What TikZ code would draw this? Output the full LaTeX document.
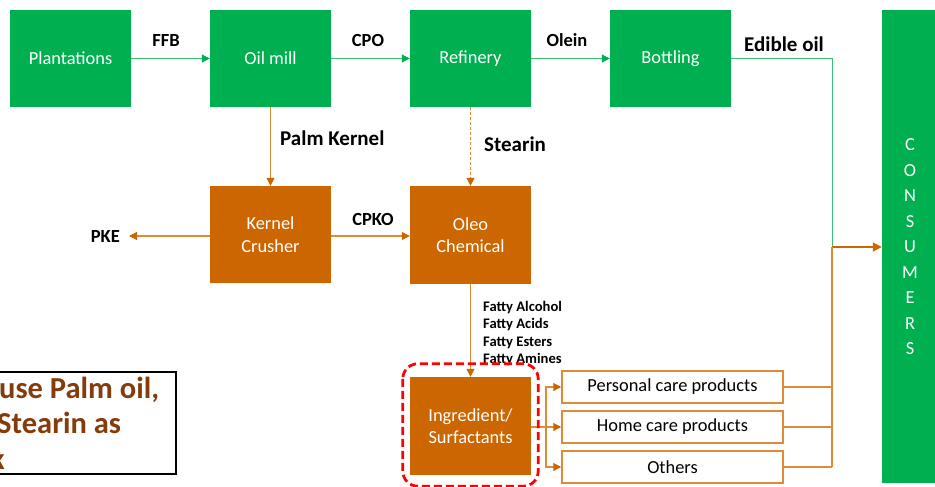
\documentclass[tikz,border=0pt]{standalone}
\usepackage{fontspec}
\setmainfont{Carlito}
\usepackage{xcolor}
\usetikzlibrary{arrows.meta}
\definecolor{boxGreen}{HTML}{00B050}
\definecolor{boxOrange}{HTML}{CC6600}
\definecolor{lineGreen}{HTML}{3CC078}
\definecolor{lineOrange}{HTML}{DE8A36}
\definecolor{noteBrown}{HTML}{843C0C}
\definecolor{markRed}{HTML}{FF0000}
\newcommand{\boxWidth}{121}
\newcommand{\boxHeight}{97}
\newcommand{\topRow}{58.5}
\newcommand{\boxFont}{\fontsize{18.4}{22.5}\selectfont}
\newcommand{\labelFont}{\fontsize{18.5}{22}\selectfont\bfseries}
\newcommand{\bigLabelFont}{\fontsize{21}{25}\selectfont\bfseries}
\newcommand{\fattyFont}{\fontsize{14.6}{17.6}\selectfont\bfseries}
\newcommand{\noteFont}{\fontsize{30.5}{35}\selectfont\bfseries}
\newcommand{\topBoxes}{plant/Plantations/70.5, mill/Oil mill/270.5, ref/Refinery/470.5, bott/Bottling/670.5}
\newcommand{\productNames}{pers/Personal care products/387, home/Home care products/427, others/Others/467}
\newcommand{\fattyNames}{1/Fatty Alcohol, 2/Fatty Acids, 3/Fatty Esters, 4/Fatty Amines}
\newcommand{\consumerLetters}{C,O,N,S,U,M,E,R,S}

\begin{document}
\begin{tikzpicture}[x=1pt,y=-1pt,
	greenBox/.style={fill=boxGreen, text=white, font=\boxFont, inner sep=0pt, align=center, minimum width=\boxWidth pt, minimum height=\boxHeight pt},
	orangeBox/.style={greenBox, fill=boxOrange},
	productBox/.style={draw=lineOrange, line width=1.5pt, fill=white, font=\boxFont, inner sep=0pt, minimum width=221pt, minimum height=32pt},
	smallLabel/.style={font=\labelFont, inner sep=0pt},
	bigLabel/.style={font=\bigLabelFont, inner sep=0pt},
	greenLine/.style={draw=lineGreen, line width=1pt},
	greenArrow/.style={greenLine, -{Triangle[length=8pt,width=8pt,color=boxGreen]}},
	orangeLine/.style={draw=lineOrange, line width=1.2pt},
	orangeArrow/.style={orangeLine, -{Triangle[length=8pt,width=8pt,color=boxOrange]}}]

	\useasboundingbox (0,0) rectangle (935,487);

	% top row
	\foreach \name/\txt/\xpos in \topBoxes
	{
		\node[greenBox] (\name) at (\xpos,\topRow) {\txt};
	}
	\node[orangeBox] (kern) at (270.5,234.5) {Kernel\\Crusher};
	\node[orangeBox, minimum height=98pt] (oleo) at (470.5,235) {Oleo\\Chemical};
	\node[orangeBox, minimum height=98pt] (ingr) at (470.5,426) {Ingredient/\\Surfactants};
	\node[greenBox, minimum width=53pt, minimum height=473pt] (cons) at (908.5,246.5) {};
	\foreach \ch [count=\i from 0] in \consumerLetters
	{
		\node[text=white, font=\boxFont, inner sep=0pt] (letter\i) at (910,145+25.5*\i) {\ch};
	}
	\foreach \name/\txt/\ypos in \productNames
	{
		\node[productBox] (\name) at (672.5,\ypos) {\txt};
	}

	% labels
	\node[smallLabel, anchor=base] (ffb) at (166,47) {FFB};
	\node[smallLabel, anchor=base] (cpo) at (368,47) {CPO};
	\node[smallLabel, anchor=base] (olein) at (567,47) {Olein};
	\node[bigLabel, anchor=base] (edible) at (784,52) {Edible oil};
	\node[bigLabel, anchor=base west] (pk) at (280,146) {Palm Kernel};
	\node[bigLabel, anchor=base west] (stearin) at (484,151) {Stearin};
	\node[smallLabel, anchor=base] (cpko) at (373,225) {CPKO};
	\node[smallLabel, anchor=base east] (pke) at (120,242) {PKE};
	\foreach \i/\txt in \fattyNames
	{
		\node[font=\fattyFont, inner sep=0pt, anchor=base west] (fatty\i) at (483,293.5+17.6*\i) {\txt};
	}

	% connectors
	\foreach \from/\to in {plant/mill, mill/ref, ref/bott}
		\draw[greenArrow] (\from) -- (\to);
	\coordinate (join) at (832,247);
	\coordinate (fork) at (546,427);
	\draw[greenLine] (bott.east) -| (join);
	\draw[draw=boxOrange, line width=2pt, -{Triangle[length=9pt,width=9pt]}, color=boxOrange] (join) -- (cons.west |- join);
	\foreach \name in {pers, home, others}
		\draw[orangeLine] (\name.east) -- (\name.east -| join);
	\draw[orangeLine] (others.east -| join) -- (join);
	\draw[orangeArrow] (mill) -- (kern);
	\draw[orangeArrow, dash pattern=on 3pt off 2pt] (ref) -- (oleo);
	\draw[orangeArrow] (kern.east |- 0,236) -- (oleo.west |- 0,236);
	\draw[orangeArrow, shorten >=9pt] (kern.west |- 0,236) -- (pke.east |- 0,236);
	\draw[orangeArrow] (oleo) -- (ingr);
	\draw[orangeArrow] (ingr.east |- fork) -- (home.west);
	\draw[orangeArrow] (fork) |- (pers.west);
	\draw[orangeArrow] (fork) |- (others.west);

	% marked ingredient box
	\draw[markRed, line width=2.8pt, dash pattern=on 8pt off 4pt, rounded corners=15pt] ([xshift=-7pt,yshift=13pt]ingr.north west) rectangle ([xshift=7pt,yshift=-11pt]ingr.south east);

	% note, cut at the left edge
	\begin{scope}
		\clip (0,0) rectangle (935,487);
		\draw[line width=1.6pt, fill=white] (-30,372) rectangle (176,474);
		\node[font=\noteFont, text=noteBrown, inner sep=0pt, anchor=base west] (note1) at (-1,398) {use Palm oil,};
		\node[font=\noteFont, text=noteBrown, inner sep=0pt, anchor=base west] (note2) at (-3,433) {Stearin as};
		\node[font=\noteFont, text=noteBrown, inner sep=0pt, anchor=base east] (note3) at (5,469) {k};
	\end{scope}
\end{tikzpicture}
\end{document}
